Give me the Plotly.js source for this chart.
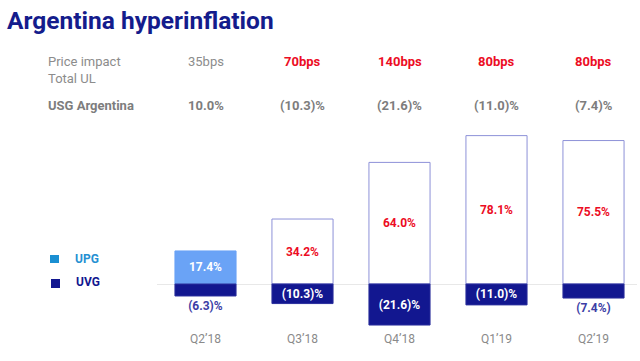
<!DOCTYPE html>
<html><head><meta charset="utf-8">
<script src="https://cdn.plot.ly/plotly-3.0.1.min.js"></script>
<style>html,body{margin:0;padding:0;background:#fff}#c{width:640px;height:361px}</style>
</head><body><div id="c"></div>
<script>
const quarters = ["Q2’18","Q3’18","Q4’18","Q1’19","Q2’19"];
const upg = [17.4, 34.2, 64.0, 78.1, 75.5];
const uvg = [-6.3, -10.3, -21.6, -11.0, -7.4];
const upgLabels = ["17.4%","34.2%","64.0%","78.1%","75.5%"];
const uvgLabels = ["(6.3)%","(10.3)%","(21.6)%","(11.0)%","(7.4%)"];
const priceImpact = ["35bps","70bps","140bps","80bps","80bps"];
const usgArgentina = ["10.0%","(10.3)%","(21.6)%","(11.0)%","(7.4)%"];

const NAVY = "#121790", RED = "#ec0c24", GRAY = "#8c8c8c", FONT = "Roboto, Arial, sans-serif";
const T = 130, B = 330; // plot area pixel top/bottom
const L = 157, R = 637;
const py = p => (B - p) / (B - T);
const px = p => (p - L) / (R - L);

const traces = [
  {type:"bar", x: quarters, y: upg, name:"UPG", width:0.63,
   marker:{color: upg.map((v,i)=> i===0 ? "#6aa3f6" : "#ffffff"),
           line:{color: upg.map((v,i)=> i===0 ? "#6aa3f6" : "#8d91d8"), width:1}},
   text: upgLabels, textposition:"inside", insidetextanchor:"middle", constraintext:"none",
   textfont:{family:FONT, size:12, weight:700, color: upg.map((v,i)=> i===0 ? "#ffffff" : RED)},
   hoverinfo:"skip", cliponaxis:false},
  {type:"bar", x: quarters, y: uvg, name:"UVG", width:0.63,
   marker:{color: NAVY, line:{color:"#2a2e9c", width:1}},
   text: uvgLabels, textposition: uvg.map(v => Math.abs(v) > 9 ? "inside" : "outside"),
   insidetextanchor:"middle", constraintext:"none",
   textfont:{family:FONT, size:12, weight:700, color: uvg.map(v => Math.abs(v) > 9 ? "#ffffff" : "#3c3ea6")},
   hoverinfo:"skip", cliponaxis:false}
];

const ann = [];
ann.push({xref:"paper", yref:"paper", x:px(46), y:py(70), xanchor:"left", yanchor:"middle", align:"left",
  text:"Price impact<br>Total UL", showarrow:false, font:{family:FONT, size:13, color:GRAY}});
ann.push({xref:"paper", yref:"paper", x:px(46), y:py(106), xanchor:"left", yanchor:"middle",
  text:"<b>USG Argentina</b>", showarrow:false, font:{family:FONT, size:13, color:"#7d7d7d"}});
priceImpact.forEach((t,i)=>{
  ann.push({xref:"x", yref:"paper", x:quarters[i], y:py(62), xanchor:"center", yanchor:"middle",
    text: i===0 ? t : "<b>"+t+"</b>", showarrow:false, font:{family:FONT, size:13, color: i===0 ? GRAY : RED}});
  ann.push({xref:"x", yref:"paper", x:quarters[i], y:py(106), xanchor:"center", yanchor:"middle",
    text:"<b>"+usgArgentina[i]+"</b>", showarrow:false, font:{family:FONT, size:13, color:"#7d7d7d"}});
});
// legend
ann.push({xref:"paper", yref:"paper", x:px(73), y:py(259), xanchor:"left", yanchor:"middle",
  text:"<b>UPG</b>", showarrow:false, font:{family:FONT, size:12, color:"#2590d2"}});
ann.push({xref:"paper", yref:"paper", x:px(74), y:py(282), xanchor:"left", yanchor:"middle",
  text:"<b>UVG</b>", showarrow:false, font:{family:FONT, size:12, color:NAVY}});

const shapes = [
  {type:"rect", xref:"paper", yref:"paper", x0:px(50), x1:px(59), y0:py(263), y1:py(255), fillcolor:"#1a8fd2", line:{width:0}},
  {type:"rect", xref:"paper", yref:"paper", x0:px(51), x1:px(60), y0:py(288), y1:py(279), fillcolor:NAVY, line:{width:0}}
];

const pxPerUnit = 1.9, zeroPx = 284;
const layout = {
  width:640, height:361, margin:{l:L, r:640-R, t:T, b:361-B},
  paper_bgcolor:"#fff", plot_bgcolor:"#fff", showlegend:false, barmode:"relative",
  title:{text:"<b>Argentina hyperinflation</b>", xref:"container", yref:"container", x:0.011, y:1-20/361,
    xanchor:"left", yanchor:"middle", font:{family:FONT, size:24.5, color:"#141c8c"}},
  xaxis:{type:"category", range:[-0.5, -0.5 + (R-L)/97], showgrid:false, zeroline:false, showline:false,
    ticks:"", tickfont:{family:FONT, size:12, color:"#8a8a8a"}, fixedrange:true},
  yaxis:{range:[-(B-zeroPx)/pxPerUnit, (zeroPx-T)/pxPerUnit], showgrid:false, zeroline:true,
    zerolinecolor:"#e8e8e8", zerolinewidth:1, showticklabels:false, ticks:"", showline:false, fixedrange:true},
  annotations: ann, shapes: shapes, font:{family:FONT}
};
Plotly.newPlot("c", traces, layout, {staticPlot:true, displayModeBar:false});
</script></body></html>
